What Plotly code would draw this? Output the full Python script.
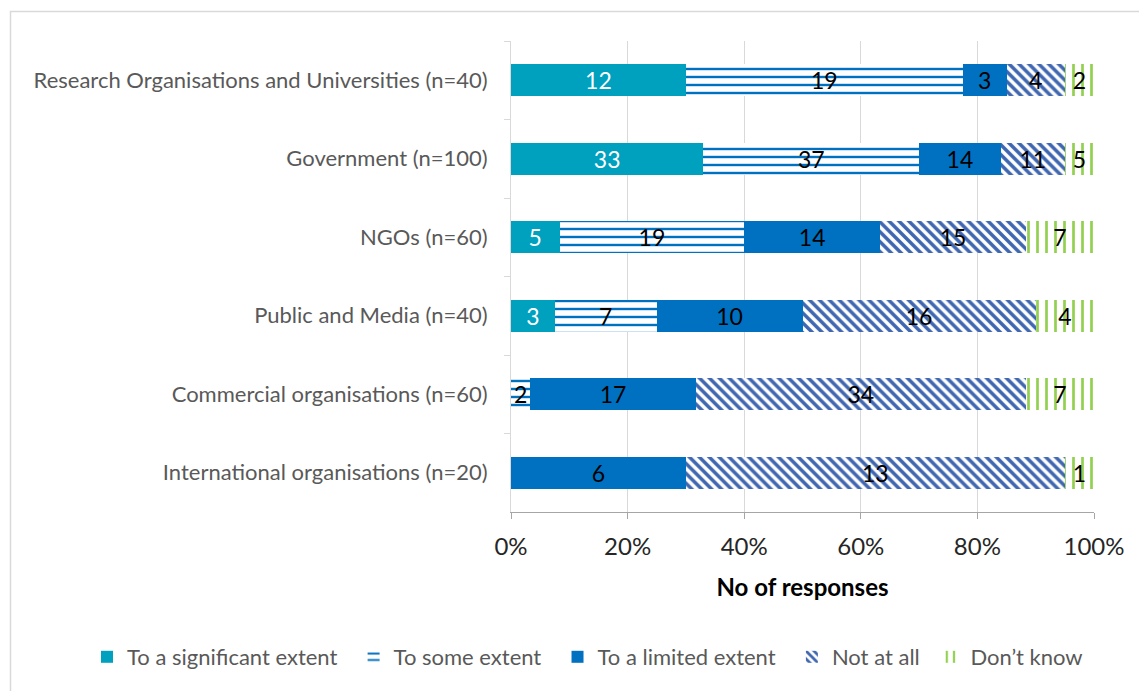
import plotly.graph_objects as go

# Stakeholder groups, listed top to bottom
categories = [
    "Research Organisations and Universities (n=40)",
    "Government (n=100)",
    "NGOs (n=60)",
    "Public and Media (n=40)",
    "Commercial organisations (n=60)",
    "International organisations (n=20)",
]

# Number of responses per answer option
significant = [12, 33, 5, 3, 0, 0]
some_extent = [19, 37, 19, 7, 2, 0]
limited = [3, 14, 14, 10, 17, 6]
not_at_all = [4, 11, 15, 16, 34, 13]
dont_know = [2, 5, 7, 4, 7, 1]

tick_vals = [0, 20, 40, 60, 80, 100]
tick_text = ["0%", "20%", "40%", "60%", "80%", "100%"]

FONT = "Lato"
NBSP = "\u00a0"

def hatch(shape, color, size, solidity):
    return dict(color="white",
                pattern=dict(shape=shape, fgcolor=color, bgcolor="white",
                             fgopacity=1, size=size, solidity=solidity,
                             fillmode="replace"))

# (legend name, values, marker, label colour, extra legend spacing)
series = [
    ("To a significant extent", significant, dict(color="#00A0BF"), "white", 2),
    ("To some extent", some_extent, hatch("-", "#0070C0", 8, 0.3), "black", 2),
    ("To a limited extent", limited, dict(color="#0070C0"), "black", 2),
    ("Not at all", not_at_all, hatch("\\", "#3F66B0", 7, 0.5), "black", 1),
    ("Don\u2019t know", dont_know, hatch("|", "#92D050", 9, 0.3), "black", 0),
]

fig = go.Figure()
for name, vals, marker, tcolor, pad in series:
    fig.add_trace(go.Bar(
        name=name + NBSP * pad,
        y=categories,
        x=vals,
        orientation="h",
        marker=dict(line=dict(width=0), **marker),
        text=[str(v) if v else "" for v in vals],
        textposition="inside",
        insidetextanchor="middle",
        textangle=0,
        textfont=dict(family=FONT, size=23, color=tcolor),
        width=0.41,
    ))

W, H = 1139, 691
ml, mr, mt, mb = 511, 45, 41, 179
pw, ph = W - ml - mr, H - mt - mb

def px_x(p):
    return (p - ml) / pw

def px_y(p):
    return (H - mb - p) / ph

fig.update_layout(
    width=W, height=H,
    barmode="stack",
    barnorm="percent",
    margin=dict(l=ml, r=mr, t=mt, b=mb, autoexpand=False),
    paper_bgcolor="white",
    plot_bgcolor="white",
    font=dict(family=FONT, color="#595959"),
    uniformtext=dict(minsize=23, mode="show"),
    showlegend=True,
    legend=dict(
        orientation="h",
        x=px_x(87), xanchor="left",
        y=px_y(657), yanchor="middle",
        font=dict(family=FONT, size=22, color="#595959"),
        traceorder="normal",
        itemwidth=30,
    ),
    xaxis=dict(
        range=[0, 100],
        tickvals=tick_vals,
        ticktext=tick_text,
        tickfont=dict(family=FONT, size=24, color="#262626"),
        showgrid=True, gridcolor="#D9D9D9", gridwidth=1,
        showline=True, linecolor="#A6A6A6", linewidth=1,
        ticks="outside", ticklen=6, tickcolor="#A6A6A6",
        ticklabelstandoff=7,
        zeroline=False,
        title=dict(text="<b>No of responses</b>", standoff=20,
                   font=dict(family=FONT, size=24, color="black")),
        fixedrange=True,
    ),
    yaxis=dict(
        autorange="reversed",
        tickfont=dict(family=FONT, size=22, color="#595959"),
        showline=True, linecolor="#D9D9D9", linewidth=1,
        ticks="outside", ticklen=6, tickcolor="#D9D9D9",
        tickson="boundaries",
        ticklabelstandoff=18,
        showgrid=False,
        fixedrange=True,
    ),
    shapes=[dict(
        type="rect", xref="paper", yref="paper",
        x0=px_x(10.5), x1=px_x(1150), y0=px_y(11.5), y1=px_y(720),
        line=dict(color="#D9D9D9", width=1.5), fillcolor="rgba(0,0,0,0)",
        layer="below",
    )],
)

fig.write_html("out.html")
